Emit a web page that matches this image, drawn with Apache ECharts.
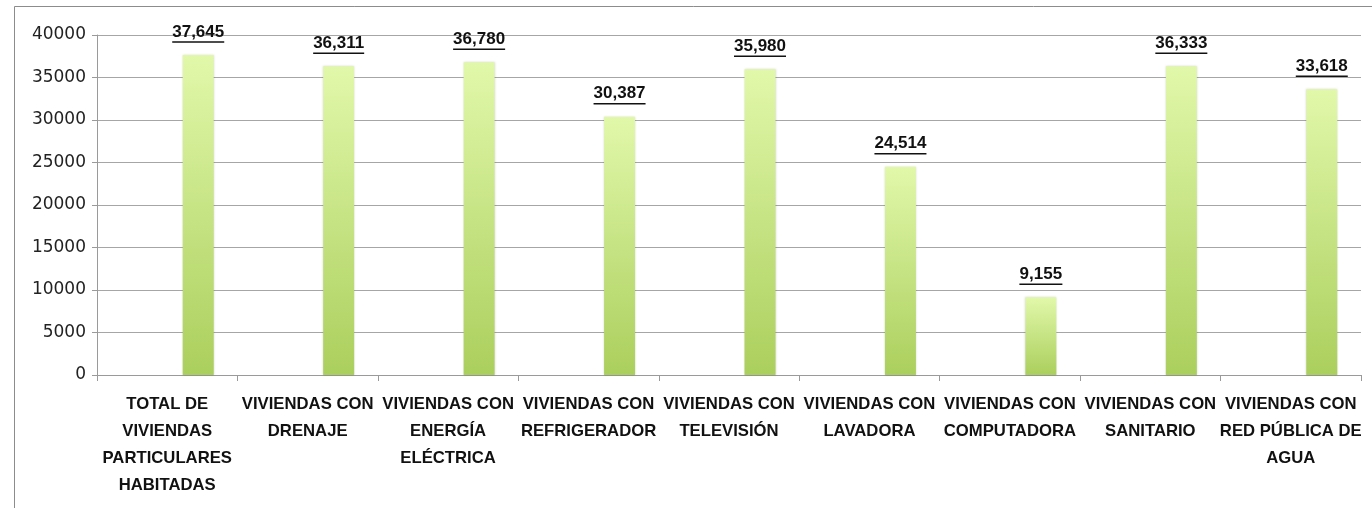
<!DOCTYPE html>
<html>
<head>
<meta charset="utf-8">
<script src="https://cdn.jsdelivr.net/npm/echarts@6/dist/echarts.min.js"></script>
<style>
  html, body { margin: 0; padding: 0; background: #fff; }
  #chart { width: 1372px; height: 508px; }
</style>
</head>
<body>
<div id="chart"></div>
<script>
const categories = [
  "TOTAL DE\nVIVIENDAS\nPARTICULARES\nHABITADAS",
  "VIVIENDAS CON\nDRENAJE",
  "VIVIENDAS CON\nENERGÍA\nELÉCTRICA",
  "VIVIENDAS CON\nREFRIGERADOR",
  "VIVIENDAS CON\nTELEVISIÓN",
  "VIVIENDAS CON\nLAVADORA",
  "VIVIENDAS CON\nCOMPUTADORA",
  "VIVIENDAS CON\nSANITARIO",
  "VIVIENDAS CON\nRED PÚBLICA DE\nAGUA",
];
const viviendas = [37645, 36311, 36780, 30387, 35980, 24514, 9155, 36333, 33618];
// empty first series, like the excel original, pushes the bars right of centre
const vacia = [];

const ctx = document.createElement("canvas").getContext("2d");
ctx.font = 'bold 17px "Liberation Sans"';

const fmt = (v) => v.toLocaleString("en-US");
const ancho = (v) => Math.round(ctx.measureText(fmt(v)).width);

// one rich style per underline width
const richLabel = {
  n: {
    fontFamily: "Liberation Sans",
    fontWeight: "bold",
    fontSize: 17,
    color: "#111",
    lineHeight: 18,
  },
};
viviendas.forEach((v) => {
  richLabel["u" + ancho(v)] = {
    width: ancho(v),
    height: 1.5,
    lineHeight: 2,
    backgroundColor: "#111",
  };
});

const chart = echarts.init(document.getElementById("chart"));

chart.setOption({
  backgroundColor: "#fff",
  animation: false,
  graphic: [
    {
      type: "rect",
      shape: { x: 14.5, y: 6.5, width: 1500, height: 600 },
      style: { fill: "none", stroke: "#8c8c8c", lineWidth: 1 },
      silent: true,
    },
  ],
  grid: { left: 97, right: 11, top: 35, bottom: 133 },
  xAxis: {
    type: "category",
    data: categories,
    axisLine: { lineStyle: { color: "#9a9a9a" } },
    axisTick: { show: true, length: 6, lineStyle: { color: "#9a9a9a" } },
    axisLabel: {
      interval: 0,
      margin: 16,
      color: "#111",
      fontFamily: "Liberation Sans",
      fontWeight: "bold",
      fontSize: 16.7,
      lineHeight: 27,
    },
  },
  yAxis: {
    type: "value",
    min: 0,
    max: 40000,
    interval: 5000,
    axisLine: { show: true, lineStyle: { color: "#9a9a9a" } },
    axisTick: { show: true, length: 5, lineStyle: { color: "#9a9a9a" } },
    splitLine: { lineStyle: { color: "#a6a6a6" } },
    axisLabel: {
      margin: 11,
      color: "#222",
      fontFamily: "DejaVu Sans",
      fontSize: 17,
      formatter: (v) => String(v),
    },
  },
  series: [
    {
      type: "bar",
      data: vacia,
      barWidth: 31,
      barGap: "100%",
    },
    {
      type: "bar",
      data: viviendas,
      barWidth: 31,
      barGap: "100%",
      itemStyle: {
        color: new echarts.graphic.LinearGradient(0, 0, 0, 1, [
          { offset: 0, color: "#e1f8aa" },
          { offset: 1, color: "#abcf5d" },
        ]),
        shadowColor: "rgba(0,0,0,0.15)",
        shadowBlur: 2,
      },
      label: {
        show: true,
        position: "top",
        distance: 12,
        formatter: (p) => "{n|" + fmt(p.value) + "}\n{u" + ancho(p.value) + "| }",
        rich: richLabel,
      },
    },
  ],
});
</script>
</body>
</html>
